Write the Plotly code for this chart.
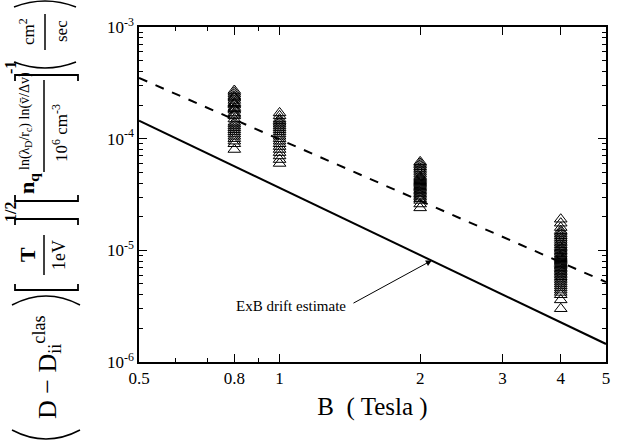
import plotly.graph_objects as go

# ---- data ----
B_fit = [0.5, 5.0]
exb_estimate = [1.45e-4, 1.45e-6]
dashed_fit = [3.5e-4, 5.2e-6]

B_vals = [0.8, 1.0, 2.0, 4.0]
D_B08 = [27, 26, 25, 24, 23.5, 23, 22, 21, 20.5, 20, 19, 18.5, 18, 17, 16.5, 16,
         15, 14, 13.5, 13, 12.5, 12, 11.5, 11, 10.5, 10, 9.5, 9, 8]
D_B1 = [17, 16, 15, 14.5, 14, 13.5, 13, 12.5, 12, 11.5, 11, 10.5, 10, 9.5, 9,
        8.5, 8, 7.5, 7, 6.5, 6]
D_B2 = [6.2, 6.0, 5.8, 5.6, 5.4, 5.2, 5.0, 4.8, 4.6, 4.5, 4.4, 4.3, 4.2, 4.1,
        4.0, 3.9, 3.8, 3.7, 3.6, 3.5, 3.4, 3.3, 3.2, 3.1, 3.0, 2.9, 2.8, 2.6, 2.4]
D_B4 = [1.9, 1.75, 1.6, 1.5, 1.45, 1.4, 1.35, 1.3, 1.25, 1.2, 1.16, 1.12, 1.08,
        1.05, 1.02, 0.99, 0.96, 0.93, 0.9, 0.88, 0.86, 0.84, 0.82, 0.8, 0.78,
        0.76, 0.74, 0.72, 0.7, 0.68, 0.66, 0.64, 0.62, 0.6, 0.58, 0.56, 0.54,
        0.52, 0.5, 0.48, 0.46, 0.44, 0.42, 0.4, 0.36, 0.3]
clusters = [D_B08, D_B1, D_B2, D_B4]

x_tickvals = [0.5, 0.8, 1, 2, 3, 4, 5]
x_ticktext = ["0.5", "0.8", "1", "2", "3", "4", "5"]
y_tickvals = [1e-6, 1e-5, 1e-4, 1e-3]
y_ticktext = ["10<sup>-6</sup>", "10<sup>-5</sup>", "10<sup>-4</sup>", "10<sup>-3</sup>"]

FONT = "Liberation Serif, Times New Roman, serif"

fig = go.Figure()
xs, ys = [], []
for b, vals in zip(B_vals, clusters):
    for v in vals:
        xs.append(b)
        ys.append(v * 1e-5)
fig.add_trace(go.Scatter(x=xs, y=ys, mode="markers",
                         marker=dict(symbol="triangle-up-open", size=11,
                                     color="black", line=dict(width=1)),
                         showlegend=False))
fig.add_trace(go.Scatter(x=B_fit, y=dashed_fit, mode="lines",
                         line=dict(color="black", width=2, dash="dash"),
                         showlegend=False))
fig.add_trace(go.Scatter(x=B_fit, y=exb_estimate, mode="lines",
                         line=dict(color="black", width=2),
                         showlegend=False))

# arrow annotation
fig.add_annotation(x=0.326, y=-5.09, xref="x", yref="y",
                   ax=0.155, ay=-5.48, axref="x", ayref="y",
                   showarrow=True, arrowhead=2, arrowsize=1.2, arrowwidth=1,
                   arrowcolor="black", text="")
fig.add_annotation(x=0.147, y=-5.5, xref="x", yref="y", xanchor="right",
                   showarrow=False, text="ExB drift estimate",
                   font=dict(family=FONT, size=15, color="black"))

# y-axis title built from rotated pieces
L, W, T, H = 139, 467, 27, 335
def px(x):
    return (x - L) / W
def py(y):
    return (T + H - y) / H

def rot(text, x, y, size, bold=False):
    if bold:
        text = "<b>" + text + "</b>"
    fig.add_annotation(x=px(x), y=py(y), xref="paper", yref="paper",
                       text=text, textangle=-90, showarrow=False,
                       xanchor="center", yanchor="middle",
                       font=dict(family=FONT, size=size, color="black"))

def vline(x, y0, y1, w=1.5):
    fig.add_shape(type="line", xref="paper", yref="paper",
                  x0=px(x), x1=px(x), y0=py(y0), y1=py(y1),
                  line=dict(color="black", width=w))

def P(x, y):
    return f"{px(x):.5f},{py(y):.5f}"

def shape_path(d, w=1.8):
    fig.add_shape(type="path", xref="paper", yref="paper", path=d,
                  line=dict(color="black", width=w))

def open_bracket(y, x0=15, x1=78, s=6):
    shape_path(f"M {P(x0, y - s)} L {P(x0, y)} L {P(x1, y)} L {P(x1, y - s)}")

def close_bracket(y, x0=15, x1=78, s=6):
    shape_path(f"M {P(x0, y + s)} L {P(x0, y)} L {P(x1, y)} L {P(x1, y + s)}")

def open_paren(y, x0, x1, b):
    shape_path(f"M {P(x0, y)} Q {P((x0 + x1) / 2, y + 2 * b)} {P(x1, y)}", w=1.5)

def close_paren(y, x0, x1, b):
    shape_path(f"M {P(x0, y)} Q {P((x0 + x1) / 2, y - 2 * b)} {P(x1, y)}", w=1.5)

# (D - D_ii^clas)
open_paren(430, 12, 80, 9)
rot("D − D<sub>ii</sub><sup>clas</sup>", 47, 367, 26)
close_paren(305, 12, 80, 9)
# [T / 1eV]^(1/2)
open_bracket(290)
rot("T", 28, 255, 22, bold=True)
vline(44, 275, 235)
rot("1eV", 59, 255, 18)
close_bracket(219)
rot("1/2", 10, 212, 16, bold=True)
# [n_q ln() ln() / 10^6 cm^-3]^-1
open_bracket(201)
rot("n<sub>q</sub>", 28, 184, 22, bold=True)
rot("ln(λ<sub>D</sub>/r<sub>c</sub>) ln(v̄/Δv)", 25, 121, 14)
vline(44, 172, 80)
rot("10<sup>6</sup> cm<sup>-3</sup>", 60, 133, 17)
close_bracket(75)
rot("-1", 10, 68, 16, bold=True)
# (cm^2 / sec)
open_paren(62, 14, 76, 6)
rot("cm<sup>2</sup>", 27, 32, 17)
vline(45, 50, 14)
rot("sec", 61, 31, 17)
close_paren(7, 14, 76, 6)

axis_common = dict(type="log", showgrid=False, zeroline=False, showline=True,
                   linecolor="black", linewidth=1.5, mirror="ticks",
                   ticks="inside", ticklen=8, tickcolor="black",
                   tickfont=dict(family=FONT, size=17, color="black"))
fig.update_xaxes(**axis_common, range=[-0.30103, 0.69897],
                 tickvals=x_tickvals, ticktext=x_ticktext,
                 minor=dict(tickvals=[0.6, 0.7, 0.9], ticks="inside",
                            ticklen=4, tickcolor="black"),
                 title=dict(text="B  ( Tesla )",
                            font=dict(family=FONT, size=25, color="black"),
                            standoff=10))
fig.update_yaxes(**axis_common, range=[-6, -3],
                 tickvals=y_tickvals, ticktext=y_ticktext,
                 minor=dict(tickvals=[m * 10 ** e for e in (-6, -5, -4)
                                      for m in range(2, 10)],
                            ticks="inside", ticklen=4, tickcolor="black"))

fig.update_layout(width=631, height=442,
                  margin=dict(l=L, r=631 - L - W, t=T, b=442 - T - H),
                  plot_bgcolor="white", paper_bgcolor="white")
fig.write_html("out.html")
